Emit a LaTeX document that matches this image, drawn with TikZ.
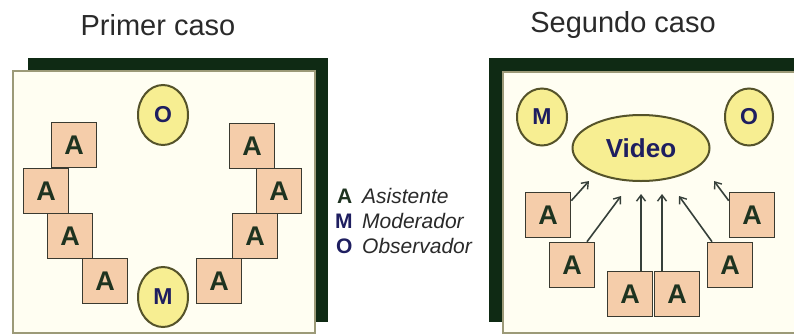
\documentclass[tikz,border=0pt]{standalone}
\usepackage{fontspec}
\setmainfont{Liberation Sans}
\usetikzlibrary{shapes.geometric,arrows.meta,calc}
\definecolor{shadowgreen}{HTML}{0F2A14}
\definecolor{cream}{HTML}{FFFEF2}
\definecolor{frameline}{HTML}{9C9A78}
\definecolor{peach}{HTML}{F5CDAA}
\definecolor{boxline}{HTML}{3A3A30}
\definecolor{ellfill}{HTML}{F7EE92}
\definecolor{ellline}{HTML}{55532A}
\definecolor{agreen}{HTML}{1E3320}
\definecolor{navy}{HTML}{1E1E60}
\definecolor{arrowcol}{HTML}{36403A}
\definecolor{textgray}{HTML}{2A2A2A}
\begin{document}
\begin{tikzpicture}[x=1pt,y=-1pt,
  abox/.style={draw=boxline, fill=peach, line width=1.6pt, minimum width=45pt, minimum height=45pt, inner sep=0pt, font=\fontsize{27}{27}\selectfont\bfseries, text=agreen},
  role/.style={ellipse, draw=ellline, fill=ellfill, line width=2pt, minimum width=50pt, minimum height=60pt, inner sep=0pt, font=\fontsize{23}{23}\selectfont\bfseries, text=navy},
  paneltitle/.style={font=\fontsize{29}{29}\selectfont, text=textgray},
  legletter/.style={anchor=west, inner sep=0pt, font=\fontsize{21}{21}\selectfont\bfseries},
  legword/.style={anchor=west, inner sep=0pt, font=\fontsize{21}{21}\selectfont\itshape, text=textgray},
  backpanel/.style={fill=shadowgreen},
  frontpanel/.style={fill=cream, draw=frameline, line width=1.5pt},
  arr/.style={draw=arrowcol, line width=1.6pt, -{Straight Barb[length=6pt,width=9pt,line width=1.4pt]}}
]
\useasboundingbox (0,0) rectangle (794,335);
\fill[white] (0,0) rectangle (794,335);
\begin{scope}
\clip (0,0) rectangle (794,335);
% left panel
\fill[backpanel] (28,58) rectangle (328,322);
\filldraw[frontpanel] (13,71) rectangle (315,333);
% right panel
\fill[backpanel] (489,58) rectangle (800,322);
\filldraw[frontpanel] (503,72) rectangle (800,333);
\end{scope}

% titles
\node[paneltitle] (t1) at (158,25) {Primer caso};
\node[paneltitle] (t2) at (623,25) {Segundo caso};

% left panel contents
\node[role] (lo) at (163,115) {O};
\node[role] (lm) at (163,297) {M};
\node[abox] (l1) at (74,145) {A};
\node[abox] (l2) at (46,191) {A};
\node[abox] (l3) at (70,236) {A};
\node[abox] (l4) at (105,281) {A};
\node[abox] (l5) at (252,146) {A};
\node[abox] (l6) at (279,191) {A};
\node[abox] (l7) at (255,236) {A};
\node[abox] (l8) at (219,281) {A};

% legend
\node[legletter, text=agreen] (ka) at (337,196) {A};
\node[legword] (kat) at (362,196) {Asistente};
\node[legletter, text=navy] (km) at (335,221) {M};
\node[legword] (kmt) at (362,221) {Moderador};
\node[legletter, text=navy] (ko) at (336,246) {O};
\node[legword] (kot) at (362,246) {Observador};

% right panel contents
\node[role, minimum height=57pt] (rm) at (542,117) {M};
\node[role, minimum width=48pt, minimum height=57pt] (ro) at (749,117) {O};
\node[role, minimum width=137pt, minimum height=66pt, font=\fontsize{26}{26}\selectfont\bfseries] (video) at (641,148) {Video};
\node[abox] (r1) at (548,215) {A};
\node[abox] (r2) at (572,265) {A};
\node[abox] (r3) at (630,294) {A};
\node[abox] (r4) at (677,294) {A};
\node[abox] (r5) at (730,265) {A};
\node[abox] (r6) at (752,215) {A};

\coordinate (e1) at (589,181);
\coordinate (e2) at (621,196);
\coordinate (e3) at (641,194);
\coordinate (e4) at (662,194);
\coordinate (e5) at (679,196);
\coordinate (e6) at (714,181);

\draw[arr] ($(r1.north east)+(0,9)$) -- (e1);
\draw[arr] ($(r2.north)+(15,0)$) -- (e2);
\draw[arr] ($(r3.north)+(11,0)$) -- (e3);
\draw[arr] ($(r4.north)+(-15,0)$) -- (e4);
\draw[arr] ($(r5.north)+(-18,0)$) -- (e5);
\draw[arr] ($(r6.north west)+(0,9)$) -- (e6);
\end{tikzpicture}
\end{document}
